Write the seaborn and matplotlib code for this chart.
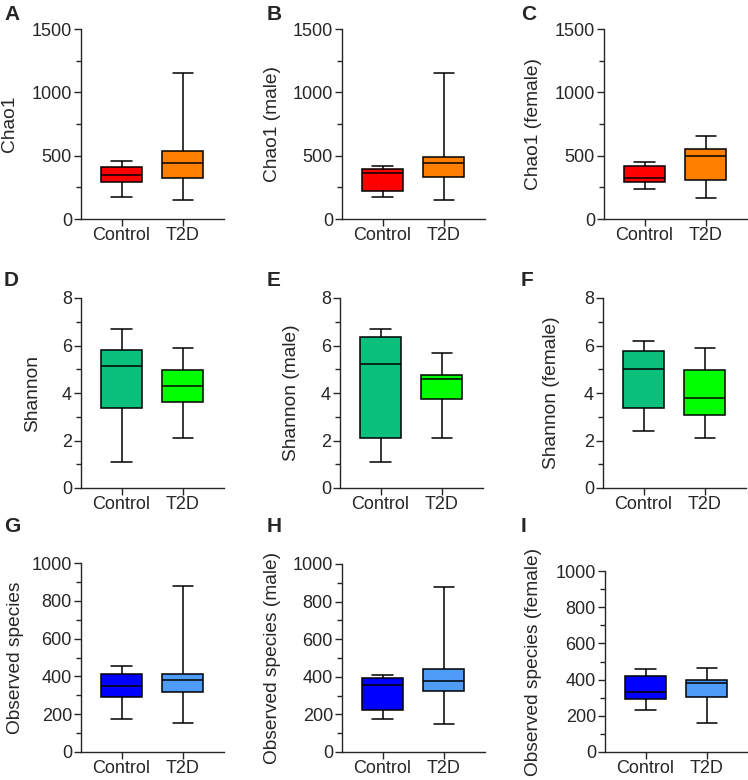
import pandas as pd
import matplotlib
matplotlib.use('Agg')
import matplotlib.pyplot as plt
from matplotlib.ticker import MultipleLocator
import seaborn as sns

sns.set_style('ticks')
plt.rcParams['font.family'] = ['Liberation Sans', 'DejaVu Sans']

groups = ['Control', 'T2D']

# five-number summaries: min, Q1, median, Q3, max
chao1_control = [174, 292, 350, 413, 455]
chao1_t2d = [150, 321, 445, 537, 1153]
chao1_male_control = [174, 221, 360, 395, 416]
chao1_male_t2d = [150, 332, 439, 489, 1153]
chao1_female_control = [237, 292, 326, 418, 453]
chao1_female_t2d = [163, 308, 497, 550, 655]

shannon_control = [1.08, 3.38, 5.12, 5.81, 6.68]
shannon_t2d = [2.09, 3.62, 4.28, 4.95, 5.88]
shannon_male_control = [1.08, 2.11, 5.24, 6.34, 6.68]
shannon_male_t2d = [2.09, 3.75, 4.59, 4.76, 5.67]
shannon_female_control = [2.39, 3.38, 5.00, 5.75, 6.18]
shannon_female_t2d = [2.09, 3.09, 3.78, 4.95, 5.88]

obs_control = [173, 291, 348, 413, 455]
obs_t2d = [151, 320, 380, 415, 879]
obs_male_control = [174, 222, 359, 394, 412]
obs_male_t2d = [150, 322, 379, 440, 878]
obs_female_control = [231, 291, 330, 419, 457]
obs_female_t2d = [162, 306, 379, 399, 464]

red_pal = ['#FF0000', '#FF8000']
green_pal = ['#0BBF7D', '#00FF00']
blue_pal = ['#0000FF', '#4F9CF8']

panels = [
    ('A', 'Chao1', chao1_control, chao1_t2d, red_pal, 1500, 500, 250),
    ('B', 'Chao1 (male)', chao1_male_control, chao1_male_t2d, red_pal, 1500, 500, 250),
    ('C', 'Chao1 (female)', chao1_female_control, chao1_female_t2d, red_pal, 1500, 500, 250),
    ('D', 'Shannon', shannon_control, shannon_t2d, green_pal, 8, 2, 1),
    ('E', 'Shannon (male)', shannon_male_control, shannon_male_t2d, green_pal, 8, 2, 1),
    ('F', 'Shannon (female)', shannon_female_control, shannon_female_t2d, green_pal, 8, 2, 1),
    ('G', 'Observed species', obs_control, obs_t2d, blue_pal, 1000, 200, 100),
    ('H', 'Observed species (male)', obs_male_control, obs_male_t2d, blue_pal, 1000, 200, 100),
    ('I', 'Observed species (female)', obs_female_control, obs_female_t2d, blue_pal, 1000, 200, 100),
]

# layout in pixels: axes left, top, bottom; ylabel centre x; letter left, top
W, H = 748, 780
layout = [
    (81, 29, 219, 9.5, 4, 5), (342, 29, 219, 272.5, 267, 5), (604, 29, 219, 534, 521, 5),
    (81, 298, 488, 32.5, 4, 271), (340, 298, 488, 292, 267, 271), (603, 298, 488, 551.5, 521, 271),
    (81, 563, 752, 15, 4, 517), (342, 564, 752, 272.5, 267, 517), (605, 571, 752, 533.5, 521, 517),
]
ax_w = 143

fig = plt.figure(figsize=(W / 100, H / 100), dpi=100)

for (letter, ylabel, ctrl, t2d, pal, ymax, major, minor), (left, top, bottom, lab_x, let_x, let_y) in zip(panels, layout):
    ax = fig.add_axes([left / W, 1 - bottom / H, ax_w / W, (bottom - top) / H])
    df = pd.DataFrame({'group': [groups[0]] * len(ctrl) + [groups[1]] * len(t2d),
                       'value': ctrl + t2d})
    sns.boxplot(data=df, x='group', y='value', hue='group', palette=pal, order=groups,
                whis=(0, 100), width=0.67, saturation=1, linecolor='black',
                linewidth=1.1, legend=False, ax=ax)
    ax.set_xlim(-0.66, 1.67)
    ax.set_ylim(0, ymax)
    ax.yaxis.set_major_locator(MultipleLocator(major))
    ax.yaxis.set_minor_locator(MultipleLocator(minor))
    sns.despine(ax=ax)
    for s in ['left', 'bottom']:
        ax.spines[s].set_linewidth(1.0)
    ax.tick_params(axis='both', which='major', length=5, width=1.0, labelsize=13, pad=1.5)
    ax.tick_params(axis='x', which='major', pad=1.0)
    ax.tick_params(axis='y', which='minor', length=3.6, width=1.0)
    ax.set_xlabel('')
    ax.set_ylabel(ylabel, fontsize=13.8)
    ax.yaxis.set_label_coords((lab_x - left) / ax_w, 0.5)
    ax.yaxis.label.set_verticalalignment('center')
    fig.text(let_x / W, 1 - let_y / H, letter, fontsize=15, fontweight='bold', ha='left', va='top')

fig.savefig('out.png', dpi=100)
